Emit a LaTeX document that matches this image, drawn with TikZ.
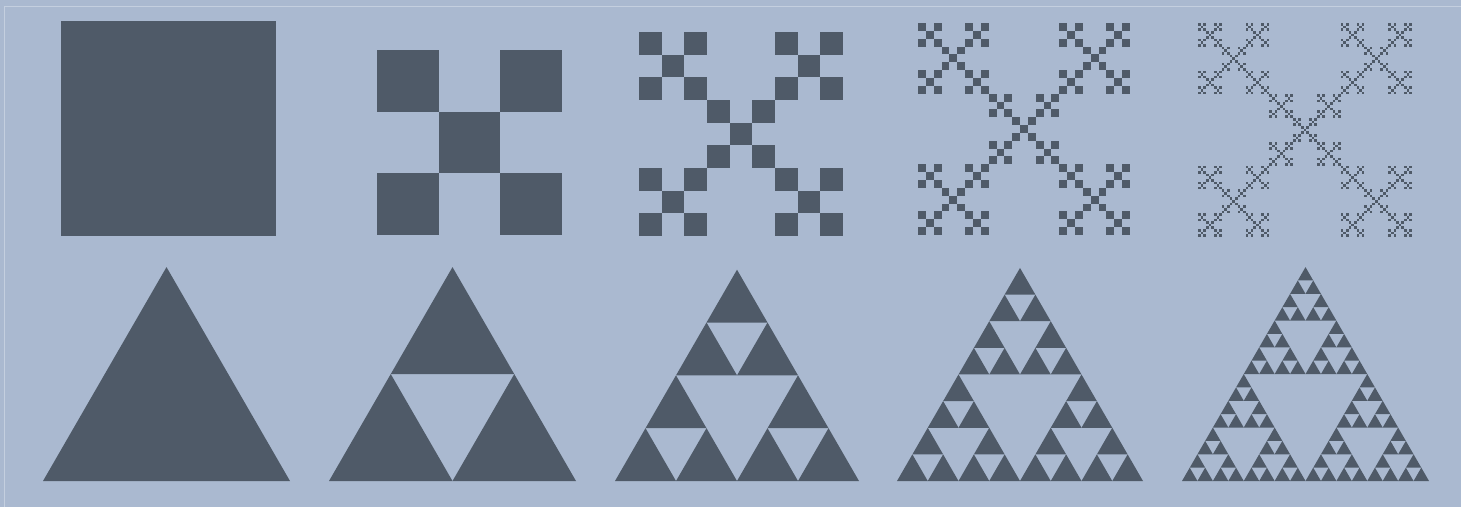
\documentclass[tikz,border=0pt]{standalone}
\definecolor{bgc}{HTML}{AAB9D0}
\definecolor{shc}{HTML}{4F5A68}
\definecolor{frc}{HTML}{C4CFDF}
\tikzset{fractal/.style={fill=shc}}
\newcommand\vicfrac[4]{% level, left, top, size
  \ifnum#1=0
    \fill[fractal] (#2,#3) rectangle ++(#4,#4);
  \else
    \begingroup
    \pgfmathsetmacro\vsz{#4/3}%
    \pgfmathtruncatemacro\vlv{#1-1}%
    \foreach \i/\j in {0/0,2/0,1/1,0/2,2/2}{%
      \pgfmathsetmacro\vxx{#2+\i*\vsz}%
      \pgfmathsetmacro\vyy{#3+\j*\vsz}%
      \edef\vnext{\noexpand\vicfrac{\vlv}{\vxx}{\vyy}{\vsz}}\vnext}%
    \endgroup
  \fi}
\newcommand\sierfrac[4]{% level, left, base, width
  \ifnum#1=0
    \fill[fractal] (#2,#3) -- ++(#4,0) -- ++({-#4/2},{-#4*0.866}) -- cycle;
  \else
    \begingroup
    \pgfmathsetmacro\swd{#4/2}%
    \pgfmathtruncatemacro\slv{#1-1}%
    \foreach \i/\j in {0/0,2/0,1/1}{%
      \pgfmathsetmacro\sxx{#2+\i*\swd/2}%
      \pgfmathsetmacro\syy{#3-\j*\swd*0.866}%
      \edef\snext{\noexpand\sierfrac{\slv}{\sxx}{\syy}{\swd}}\snext}%
    \endgroup
  \fi}
\begin{document}
\begin{tikzpicture}[x=1pt,y=-1pt]
  \fill[bgc] (0,0) rectangle (1461,507);
  \useasboundingbox (0,0) rectangle (1461,507);
  \draw[frc,line width=1pt] (4.5,507) -- (4.5,6.5) -- (1461,6.5);
  % Vicsek fractal, levels 0-4
  \vicfrac{0}{61}{21}{215}
  \vicfrac{1}{377}{50}{185}
  \vicfrac{2}{639}{32}{204}
  \vicfrac{3}{918}{23}{212}
  \vicfrac{4}{1198}{23}{214}
  % Sierpinski triangle, levels 0-4
  \sierfrac{0}{43}{481}{247}
  \sierfrac{1}{329}{481}{247}
  \sierfrac{2}{615}{481}{244}
  \sierfrac{3}{897}{481}{246}
  \sierfrac{4}{1182}{481}{247}
\end{tikzpicture}
\end{document}
